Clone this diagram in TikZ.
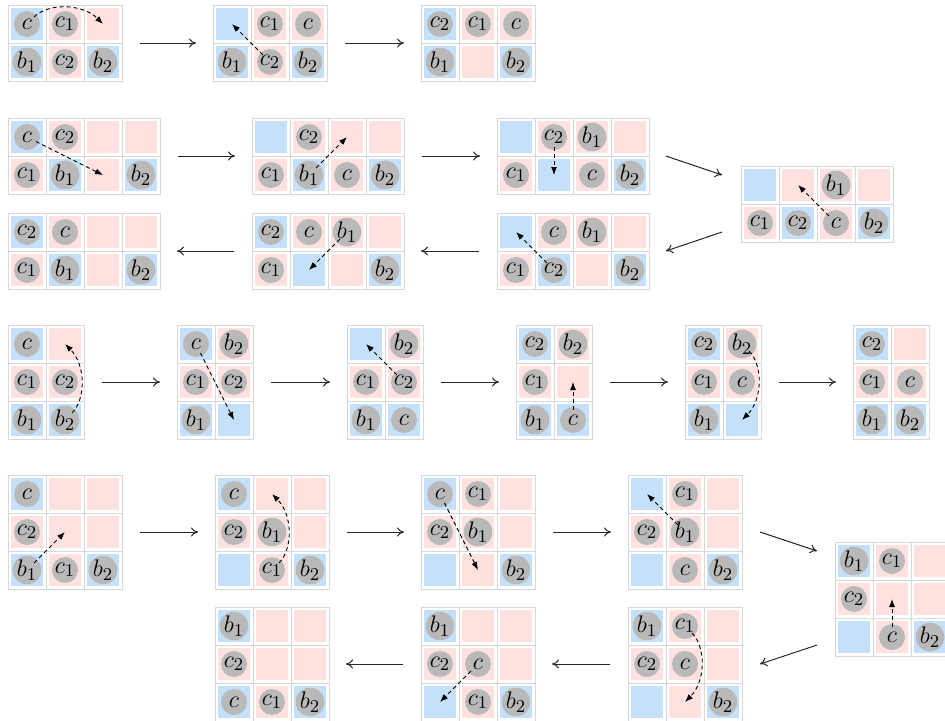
\documentclass[tikz,border=0pt]{standalone}
\usepackage{xcolor}
\usepackage{tikz}
\usetikzlibrary{arrows.meta, calc}

\definecolor{tileblue}{RGB}{197,224,251}
\definecolor{tilepink}{RGB}{255,226,224}
\definecolor{tokengray}{RGB}{185,185,185}
\definecolor{gridgray}{RGB}{216,216,216}

% colour patterns of the boards (row/column/colour)
\def\patWide{1/1/tileblue,1/2/tilepink,1/3/tilepink,2/1/tileblue,2/2/tilepink,2/3/tileblue}
\def\patLong{1/1/tileblue,1/2/tilepink,1/3/tilepink,1/4/tilepink,2/1/tilepink,2/2/tileblue,2/3/tilepink,2/4/tileblue}
\def\patTall{1/1/tileblue,1/2/tilepink,2/1/tilepink,2/2/tilepink,3/1/tileblue,3/2/tileblue}
\def\patSquare{1/1/tileblue,1/2/tilepink,1/3/tilepink,2/1/tilepink,2/2/tilepink,2/3/tilepink,3/1/tileblue,3/2/tilepink,3/3/tileblue}

% #1 name, #2 top left corner, #3 columns, #4 rows, #5 colours, #6 tokens
\newcommand{\board}[6]{%
  \node[boardbox, minimum width=#3*19pt, minimum height=#4*19pt] (#1) at (#2) {};
  \foreach \rw/\cl/\tint in #5 {
    \node[cellbox] (#1-\rw-\cl) at ($(#1.north west)+(\cl*38-19,\rw*38-19)$) {};
    \node[tilebox, fill=\tint] (#1-t\rw\cl) at (#1-\rw-\cl) {};
  }
  \foreach \rw/\cl/\lab in {#6}
    \node[tokennode] (#1-k\rw\cl) at (#1-\rw-\cl) {$\lab$};
}

\begin{document}
\begin{tikzpicture}[x=0.5pt, y=-0.5pt]
    % Define styles
    \tikzstyle{boardbox} = [anchor=north west, inner sep=0pt, outer sep=0pt]
    \tikzstyle{cellbox} = [draw=gridgray, line width=0.5pt, minimum size=19pt, inner sep=0pt, outer sep=0pt]
    \tikzstyle{tilebox} = [minimum size=16pt, inner sep=0pt]
    \tikzstyle{tokennode} = [circle, fill=tokengray, minimum size=13pt, inner sep=0pt, font=\fontsize{13pt}{15pt}\selectfont]
    \tikzstyle{moveline} = [-{Latex[length=4pt, width=3pt]}, dash pattern=on 2pt off 1.5pt, line width=0.45pt, shorten <=5pt]
    \tikzstyle{flowline} = [-{To[length=3.5pt, width=4.5pt]}, line width=0.5pt, black!85]
    \tikzstyle{hop} = [flowline, shorten <=9pt, shorten >=8.5pt]

    \useasboundingbox (0,0) rectangle (945,720);

    % First sequence
    \board{A}{8,5}{3}{2}{\patWide}{1/1/c, 1/2/c_1, 2/1/b_1, 2/2/c_2, 2/3/b_2}
    \board{B}{213,5}{3}{2}{\patWide}{1/2/c_1, 1/3/c, 2/1/b_1, 2/2/c_2, 2/3/b_2}
    \board{C}{421,5}{3}{2}{\patWide}{1/1/c_2, 1/2/c_1, 1/3/c, 2/1/b_1, 2/3/b_2}
    \draw[moveline] (A-1-1.center) to[bend left=45] (A-1-3.center);
    \draw[moveline] (B-2-2.center) -- (B-1-1.center);
    \draw[hop] (A) -- (B);
    \draw[hop] (B) -- (C);

    % Second sequence
    \board{D}{8,118}{4}{2}{\patLong}{1/1/c, 1/2/c_2, 2/1/c_1, 2/2/b_1, 2/4/b_2}
    \board{E}{252,118}{4}{2}{\patLong}{1/2/c_2, 2/1/c_1, 2/2/b_1, 2/3/c, 2/4/b_2}
    \board{F}{497,118}{4}{2}{\patLong}{1/2/c_2, 1/3/b_1, 2/1/c_1, 2/3/c, 2/4/b_2}
    \board{G}{741,166}{4}{2}{\patLong}{1/3/b_1, 2/1/c_1, 2/2/c_2, 2/3/c, 2/4/b_2}
    \board{H}{497,213}{4}{2}{\patLong}{1/2/c, 1/3/b_1, 2/1/c_1, 2/2/c_2, 2/4/b_2}
    \board{I}{252,213}{4}{2}{\patLong}{1/1/c_2, 1/2/c, 1/3/b_1, 2/1/c_1, 2/4/b_2}
    \board{J}{8,213}{4}{2}{\patLong}{1/1/c_2, 1/2/c, 2/1/c_1, 2/2/b_1, 2/4/b_2}
    \draw[moveline] (D-1-1.center) -- (D-2-3.center);
    \draw[moveline] (E-2-2.center) -- (E-1-3.center);
    \draw[moveline] (F-1-2.center) -- (F-2-2.center);
    \draw[moveline] (G-2-3.center) -- (G-1-2.center);
    \draw[moveline] (H-2-2.center) -- (H-1-1.center);
    \draw[moveline] (I-1-3.center) -- (I-2-2.center);
    \draw[hop] (D) -- (E);
    \draw[hop] (E) -- (F);
    \draw[flowline] ($(F.east)+(17,0)$) -- ($(G.west)+(-19,-29)$);
    \draw[flowline] ($(G.west)+(-19,28)$) -- ($(H.east)+(17,0)$);
    \draw[hop] (H) -- (I);
    \draw[hop] (I) -- (J);

    % Third sequence
    \board{K}{8,325}{2}{3}{\patTall}{1/1/c, 2/1/c_1, 2/2/c_2, 3/1/b_1, 3/2/b_2}
    \board{L}{177,325}{2}{3}{\patTall}{1/1/c, 1/2/b_2, 2/1/c_1, 2/2/c_2, 3/1/b_1}
    \board{M}{347,325}{2}{3}{\patTall}{1/2/b_2, 2/1/c_1, 2/2/c_2, 3/1/b_1, 3/2/c}
    \board{N}{516,325}{2}{3}{\patTall}{1/1/c_2, 1/2/b_2, 2/1/c_1, 3/1/b_1, 3/2/c}
    \board{O}{685,325}{2}{3}{\patTall}{1/1/c_2, 1/2/b_2, 2/1/c_1, 2/2/c, 3/1/b_1}
    \board{P}{853,325}{2}{3}{\patTall}{1/1/c_2, 2/1/c_1, 2/2/c, 3/1/b_1, 3/2/b_2}
    \draw[moveline] (K-3-2.center) to[bend right=45] (K-1-2.center);
    \draw[moveline] (L-1-1.center) -- (L-3-2.center);
    \draw[moveline] (M-2-2.center) -- (M-1-1.center);
    \draw[moveline] (N-3-2.center) -- (N-2-2.center);
    \draw[moveline] (O-1-2.center) to[bend left=45] (O-3-2.center);
    \draw[hop] (K) -- (L);
    \draw[hop] (L) -- (M);
    \draw[hop] (M) -- (N);
    \draw[hop] (N) -- (O);
    \draw[hop] (O) -- (P);

    % Fourth sequence
    \board{Q}{8,475}{3}{3}{\patSquare}{1/1/c, 2/1/c_2, 3/1/b_1, 3/2/c_1, 3/3/b_2}
    \board{R}{215,475}{3}{3}{\patSquare}{1/1/c, 2/1/c_2, 2/2/b_1, 3/2/c_1, 3/3/b_2}
    \board{S}{421,475}{3}{3}{\patSquare}{1/1/c, 1/2/c_1, 2/1/c_2, 2/2/b_1, 3/3/b_2}
    \board{T}{628,475}{3}{3}{\patSquare}{1/2/c_1, 2/1/c_2, 2/2/b_1, 3/2/c, 3/3/b_2}
    \board{U}{835,542}{3}{3}{\patSquare}{1/1/b_1, 1/2/c_1, 2/1/c_2, 3/2/c, 3/3/b_2}
    \board{V}{628,607}{3}{3}{\patSquare}{1/1/b_1, 1/2/c_1, 2/1/c_2, 2/2/c, 3/3/b_2}
    \board{W}{421,607}{3}{3}{\patSquare}{1/1/b_1, 2/1/c_2, 2/2/c, 3/2/c_1, 3/3/b_2}
    \board{X}{215,607}{3}{3}{\patSquare}{1/1/b_1, 2/1/c_2, 3/1/c, 3/2/c_1, 3/3/b_2}
    \draw[moveline] (Q-3-1.center) -- (Q-2-2.center);
    \draw[moveline] (R-3-2.center) to[bend right=45] (R-1-2.center);
    \draw[moveline] (S-1-1.center) -- (S-3-2.center);
    \draw[moveline] (T-2-2.center) -- (T-1-1.center);
    \draw[moveline] (U-3-2.center) -- (U-2-2.center);
    \draw[moveline] (V-1-2.center) to[bend left=45] (V-3-2.center);
    \draw[moveline] (W-2-2.center) -- (W-3-1.center);
    \draw[hop] (Q) -- (R);
    \draw[hop] (R) -- (S);
    \draw[hop] (S) -- (T);
    \draw[flowline] ($(T.east)+(18,0)$) -- ($(U.west)+(-18,-48)$);
    \draw[flowline] ($(U.west)+(-18,46)$) -- ($(V.east)+(18,0)$);
    \draw[hop] (V) -- (W);
    \draw[hop] (W) -- (X);

\end{tikzpicture}
\end{document}
